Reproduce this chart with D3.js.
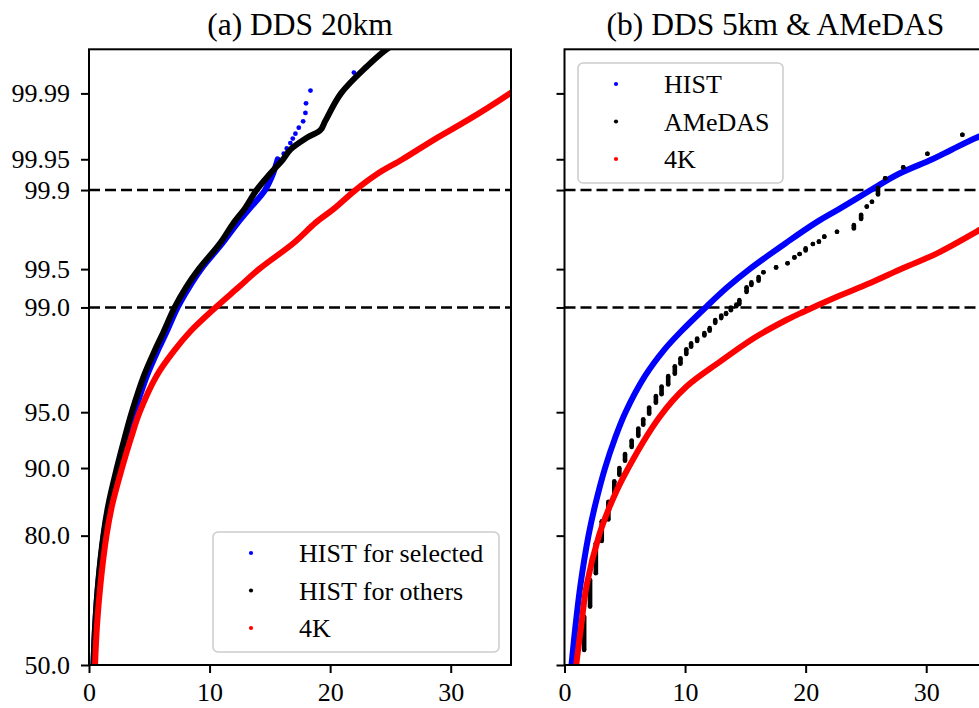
<!DOCTYPE html>
<html>
<head>
<meta charset="utf-8">
<script src="https://cdnjs.cloudflare.com/ajax/libs/d3/7.8.5/d3.min.js"></script>
<style>
body { margin: 0; background: #fff; }
svg text { font-family: "Liberation Serif", "Times New Roman", serif; fill: #000; }
</style>
</head>
<body>
<script>
// [value, cumulative probability in %]
var histSelA = [[0.37,50],[0.51,60],[0.76,70],[1.22,80],[1.66,85],[2.45,90],[3.12,93],[3.78,95],[4.8,97],[5.75,98],
  [6.45,98.5],[7.35,99],[8.3,99.3],[9.3,99.5],[11.1,99.7],[12.35,99.8],[13.3,99.85],[14.6,99.9],[15.25,99.93],[15.65,99.95]];
var histSelTailA = [[16.15,99.9561],[16.4,99.9611],[16.7,99.9658],[16.9,99.9693],[17.12,99.9727],[17.4,99.9764],
  [17.76,99.9798],[17.95,99.9836],[18.0,99.9871],[18.37,99.9907],[21.97,99.9942]];
var histOthA = [[0.37,50],[0.51,60],[0.75,70],[1.19,80],[1.59,85],[2.31,90],[2.95,93],[3.55,95],[4.55,97],[5.5,98],
  [6.2,98.5],[7.1,99],[8.05,99.3],[9.1,99.5],[10.9,99.7],[12.0,99.8],[12.9,99.85],[13.9,99.9],[15.0,99.93],[16.1,99.95],
  [16.7,99.96],[18.1,99.97],[19.2,99.975],[19.6,99.98],[20.9,99.99],[23.0,99.995],[24.8,99.997],[27.0,99.998]];
var k4A = [[0.5,50],[0.66,60],[0.95,70],[1.45,80],[1.91,85],[2.74,90],[3.48,93],[4.2,95],[5.6,97],[7.15,98],
  [8.4,98.5],[10.5,99],[12.4,99.3],[14.1,99.5],[17.0,99.7],[18.8,99.8],[20.3,99.85],[22.1,99.9],[23.9,99.93],[26.0,99.95],
  [28.9,99.97],[31.3,99.98],[34.9,99.99],[38.0,99.995]];

var histB = [[0.58,50],[0.91,60],[1.33,70],[1.99,80],[2.53,85],[3.36,90],[4.19,93],[5.06,95],[6.68,97],[8.3,98],
  [9.66,98.5],[11.7,99],[13.5,99.3],[15.35,99.5],[18.4,99.7],[20.85,99.8],[22.8,99.85],[25.4,99.9],[27.7,99.93],[30.5,99.95],
  [32.1,99.96],[34.2,99.97],[37.5,99.98]];
var k4B = [[0.97,50],[1.38,60],[1.85,70],[2.86,80],[3.78,85],[4.9,88.97],[7.9,94.69],[10.1,96.49],[12.9,97.58],
  [15.66,98.32],[18.4,98.76],[19.8,98.92],[22.6,99.17],[25.3,99.35],[28.1,99.51],[30.9,99.63],[34.2,99.76],[36.5,99.83]];
// AMeDAS: [value, lowest %, highest %] of each run of equal values
var amedasB = [[1.63,53.9,62.3],[2.12,64.8,71.0],[2.6,72.5,78.6],[3.09,79.0,82.5],[3.64,82.8,85.6],[4.13,86.6,88.4],
  [4.55,89.2,90.0],[5.02,90.8,91.5],[5.57,92.2,92.8],[6.12,93.2,93.8],[6.53,94.1,94.5],[7.02,94.9,95.3],[7.58,95.6,96.0],
  [8.05,96.1,96.5],[8.6,96.6,97.0],[9.15,97.1,97.4],[9.62,97.5,97.7],[10.1,97.85,98.0],[10.5,98.08,98.18],[11.0,98.25,98.32],
  [11.6,98.4,98.46],[12.04,98.52,98.58],[12.5,98.7,98.76],[13.0,98.8,98.85],[13.4,98.88,98.9],[13.8,98.95,99.0],
  [14.25,99.02,99.05],[14.5,99.06,99.12],[15.1,99.24,99.3],[15.5,99.33,99.36],[16.1,99.38,99.42],[16.5,99.47,99.47],
  [17.55,99.516,99.516],[18.5,99.553,99.553],[19.07,99.6,99.6],[19.5,99.625,99.625],[20.0,99.65,99.665],[20.6,99.692,99.692],
  [21.1,99.706,99.706],[21.55,99.734,99.734],[22.6,99.759,99.759],[24.0,99.775,99.79],[24.6,99.815,99.83],
  [25.07,99.857,99.857],[25.5,99.871,99.871],[26.0,99.89,99.905],[26.6,99.923,99.923],[28.1,99.94,99.94],
  [30.1,99.956,99.956],[33.0,99.972,99.972]];

var yTicks = [50, 80, 90, 95, 99, 99.5, 99.9, 99.95, 99.99];
var yTickLabels = ["50.0", "80.0", "90.0", "95.0", "99.0", "99.5", "99.9", "99.95", "99.99"];
var xTicks = [0, 10, 20, 30];
var refLines = [99.0, 99.9];

// inverse normal cdf (Acklam)
function probit(p) {
  var a = [-3.969683028665376e+01, 2.209460984245205e+02, -2.759285104469687e+02, 1.383577518672690e+02, -3.066479806614716e+01, 2.506628277459239e+00];
  var b = [-5.447609879822406e+01, 1.615858368580409e+02, -1.556989798598866e+02, 6.680131188771972e+01, -1.328068155288572e+01];
  var c = [-7.784894002430293e-03, -3.223964580411365e-01, -2.400758277161838e+00, -2.549671635165818e+00, 4.374664141464968e+00, 2.938163982698783e+00];
  var d = [7.784695709041462e-03, 3.224671290700398e-01, 2.445134137142996e+00, 3.754408661907416e+00];
  var q, r;
  if (p < 0.02425) {
    q = Math.sqrt(-2 * Math.log(p));
    return (((((c[0]*q+c[1])*q+c[2])*q+c[3])*q+c[4])*q+c[5]) / ((((d[0]*q+d[1])*q+d[2])*q+d[3])*q+1);
  }
  if (p <= 1 - 0.02425) {
    q = p - 0.5; r = q * q;
    return (((((a[0]*r+a[1])*r+a[2])*r+a[3])*r+a[4])*r+a[5])*q / (((((b[0]*r+b[1])*r+b[2])*r+b[3])*r+b[4])*r+1);
  }
  q = Math.sqrt(-2 * Math.log(1 - p));
  return -(((((c[0]*q+c[1])*q+c[2])*q+c[3])*q+c[4])*q+c[5]) / ((((d[0]*q+d[1])*q+d[2])*q+d[3])*q+1);
}

var W = 979, H = 708;
var top0 = 49.3, bottom0 = 665, pw = 422;

var svg = d3.select("body").append("svg")
    .attr("width", W)
    .attr("height", H);

var y = d3.scaleLinear().domain([0, 4.006]).range([bottom0, top0]);
function yp(pct) { return y(probit(pct / 100)); }

function drawPanel(left, id, title, series, legendPos, showYLabels) {
  var x = d3.scaleLinear().domain([0, 35]).range([left, left + pw]);

  svg.append("clipPath").attr("id", id)
    .append("rect").attr("x", left).attr("y", top0).attr("width", pw).attr("height", bottom0 - top0);

  var plot = svg.append("g").attr("clip-path", "url(#" + id + ")");

  // dashed reference lines
  plot.selectAll("line.ref").data(refLines).enter().append("line")
      .attr("class", "ref")
      .attr("x1", left).attr("x2", left + pw)
      .attr("y1", function(d) { return yp(d); })
      .attr("y2", function(d) { return yp(d); })
      .attr("stroke", "#000").attr("stroke-width", 2.6)
      .attr("stroke-dasharray", "11,5");

  var line = d3.line()
      .x(function(d) { return x(d[0]); })
      .y(function(d) { return yp(d[1]); })
      .curve(d3.curveCatmullRom.alpha(0.5));

  series.forEach(function(s) {
    if (s.dense) {
      plot.append("path").datum(s.dense)
          .attr("d", line)
          .attr("fill", "none")
          .attr("stroke", s.color)
          .attr("stroke-width", 6)
          .attr("stroke-linejoin", "round")
          .attr("stroke-linecap", "round");
    }
    if (s.dots) {
      plot.selectAll(null).data(s.dots).enter().append("circle")
          .attr("cx", function(d) { return x(d[0]); })
          .attr("cy", function(d) { return yp(d[1]); })
          .attr("r", 2.4)
          .attr("fill", s.color);
    }
    if (s.runs) {
      var g = plot.append("g").attr("fill", s.color).attr("stroke", s.color);
      g.selectAll("line").data(s.runs).enter().append("line")
          .attr("x1", function(d) { return x(d[0]); })
          .attr("x2", function(d) { return x(d[0]); })
          .attr("y1", function(d) { return yp(d[1]); })
          .attr("y2", function(d) { return yp(d[2]); })
          .attr("stroke-width", 4.6);
      g.selectAll("circle.lo").data(s.runs).enter().append("circle")
          .attr("cx", function(d) { return x(d[0]); })
          .attr("cy", function(d) { return yp(d[1]); })
          .attr("r", 2.3).attr("stroke", "none");
      g.selectAll("circle.hi").data(s.runs).enter().append("circle")
          .attr("cx", function(d) { return x(d[0]); })
          .attr("cy", function(d) { return yp(d[2]); })
          .attr("r", 2.3).attr("stroke", "none");
    }
  });

  // axes
  var yAxis = d3.axisLeft(y)
      .tickValues(yTicks.map(function(p) { return probit(p / 100); }))
      .tickFormat(function(d, i) { return showYLabels ? yTickLabels[i] : ""; })
      .tickSize(8).tickPadding(11);
  var gy = svg.append("g")
      .attr("transform", "translate(" + left + ",0)")
      .call(yAxis);

  var xAxis = d3.axisBottom(x).tickValues(xTicks).tickFormat(d3.format("d"))
      .tickSize(8).tickPadding(10);
  var gx = svg.append("g")
      .attr("transform", "translate(0," + bottom0 + ")")
      .call(xAxis);

  [gx, gy].forEach(function(g) {
    g.select(".domain").remove();
    g.selectAll(".tick line").attr("stroke", "#000").attr("stroke-width", 2);
    g.selectAll(".tick text").attr("font-size", 26)
        .attr("font-family", "Liberation Serif, Times New Roman, serif").attr("fill", "#000");
  });

  // frame
  svg.append("rect")
      .attr("x", left).attr("y", top0)
      .attr("width", pw).attr("height", bottom0 - top0)
      .attr("fill", "none").attr("stroke", "#000").attr("stroke-width", 2);

  svg.append("text")
      .attr("x", left + pw / 2).attr("y", 35)
      .attr("text-anchor", "middle")
      .attr("font-size", 31.5)
      .text(title);

  // legend
  var lg = svg.append("g").attr("transform", "translate(" + legendPos.x + "," + legendPos.y + ")");
  lg.append("rect")
      .attr("width", legendPos.w).attr("height", 120)
      .attr("rx", 5)
      .attr("fill", "#fff").attr("fill-opacity", 0.8)
      .attr("stroke", "#cccccc").attr("stroke-width", 1.5);
  var items = lg.selectAll("g.item").data(series).enter().append("g")
      .attr("transform", function(d, i) { return "translate(0," + (21 + i * 37.5) + ")"; });
  items.append("circle").attr("cx", 38).attr("r", 2.1).attr("fill", function(d) { return d.color; });
  items.append("text").attr("x", 86).attr("y", 9).attr("font-size", 26)
      .text(function(d) { return d.name; });
}

drawPanel(89, "clipA", "(a) DDS 20km", [
  {name: "HIST for selected", color: "#0000ff", dense: histSelA, dots: histSelTailA},
  {name: "HIST for others", color: "#000000", dense: histOthA},
  {name: "4K", color: "#ff0000", dense: k4A}
], {x: 213, y: 532, w: 286}, true);

drawPanel(564.5, "clipB", "(b) DDS 5km & AMeDAS", [
  {name: "HIST", color: "#0000ff", dense: histB},
  {name: "AMeDAS", color: "#000000", runs: amedasB},
  {name: "4K", color: "#ff0000", dense: k4B}
], {x: 578, y: 63, w: 205}, false);
</script>
</body>
</html>
